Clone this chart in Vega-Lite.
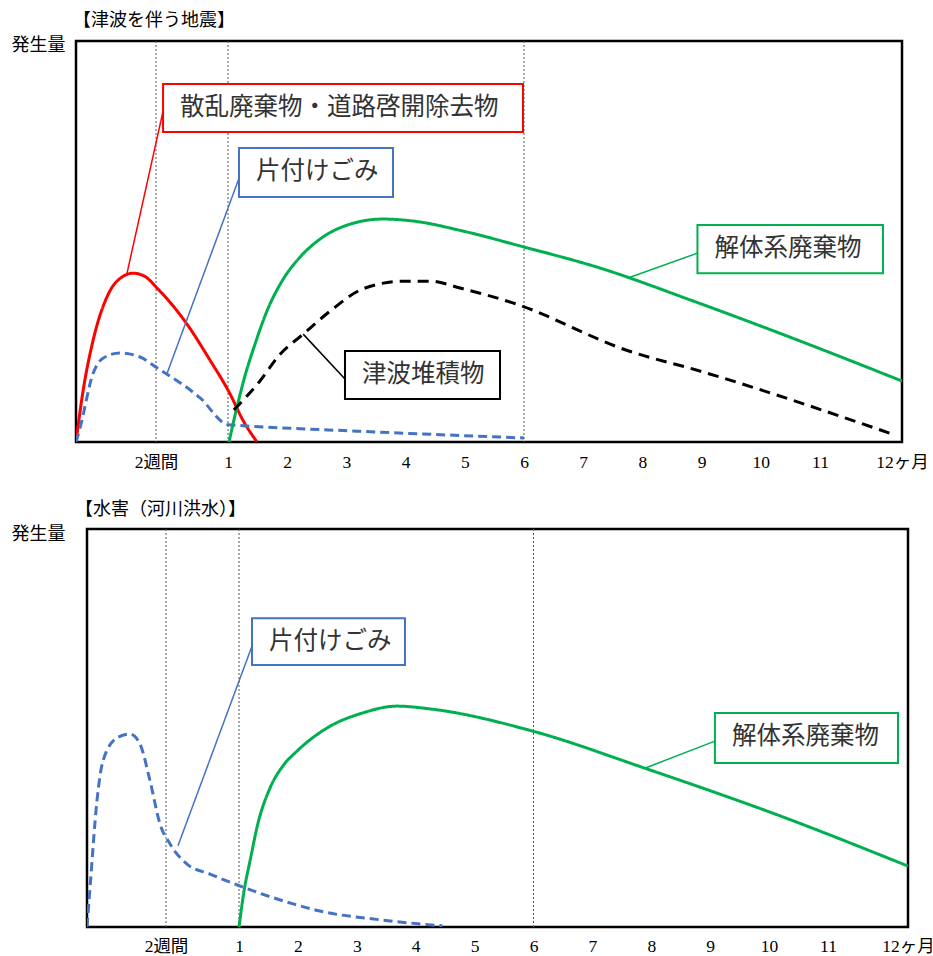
{
  "$schema": "https://vega.github.io/schema/vega-lite/v6.json",
  "padding": {"left": 8, "top": 10, "right": 0, "bottom": 0},
  "background": "white",
  "spacing": 27,
  "config": {
    "view": {"stroke": "#000000", "strokeWidth": 2.5},
    "title": {"anchor": "start", "frame": "group", "fontSize": 18, "fontWeight": "normal", "font": "Noto Sans CJK JP", "color": "#000000", "offset": 6}
  },
  "datasets": {
    "empty": [],
    "guides": [{"m": 0.5}, {"m": 1}, {"m": 6}],
    "curves_top": [
      {"series": "散乱廃棄物・道路啓開除去物", "m": 0, "v": 0},
      {"series": "散乱廃棄物・道路啓開除去物", "m": 0.044, "v": 12.7},
      {"series": "散乱廃棄物・道路啓開除去物", "m": 0.106, "v": 25.2},
      {"series": "散乱廃棄物・道路啓開除去物", "m": 0.2125, "v": 37.7},
      {"series": "散乱廃棄物・道路啓開除去物", "m": 0.29, "v": 41.2},
      {"series": "散乱廃棄物・道路啓開除去物", "m": 0.356, "v": 42.1},
      {"series": "散乱廃棄物・道路啓開除去物", "m": 0.43, "v": 41.3},
      {"series": "散乱廃棄物・道路啓開除去物", "m": 0.507, "v": 38.4},
      {"series": "散乱廃棄物・道路啓開除去物", "m": 0.715, "v": 29.4},
      {"series": "散乱廃棄物・道路啓開除去物", "m": 0.87, "v": 20.7},
      {"series": "散乱廃棄物・道路啓開除去物", "m": 1.034, "v": 12.0},
      {"series": "散乱廃棄物・道路啓開除去物", "m": 1.25, "v": 5.5},
      {"series": "散乱廃棄物・道路啓開除去物", "m": 1.49, "v": 0},
      {"series": "片付けごみ", "m": 0, "v": 0},
      {"series": "片付けごみ", "m": 0.025, "v": 3.5},
      {"series": "片付けごみ", "m": 0.106, "v": 17.0},
      {"series": "片付けごみ", "m": 0.169, "v": 20.9},
      {"series": "片付けごみ", "m": 0.275, "v": 22.2},
      {"series": "片付けごみ", "m": 0.4, "v": 21.2},
      {"series": "片付けごみ", "m": 0.507, "v": 18.5},
      {"series": "片付けごみ", "m": 0.806, "v": 11.0},
      {"series": "片付けごみ", "m": 1.0, "v": 4.3},
      {"series": "片付けごみ", "m": 1.2, "v": 4.1},
      {"series": "片付けごみ", "m": 3.18, "v": 2.7},
      {"series": "片付けごみ", "m": 6.0, "v": 1.0},
      {"series": "解体系廃棄物", "m": 1.017, "v": 0},
      {"series": "解体系廃棄物", "m": 1.135, "v": 7.7},
      {"series": "解体系廃棄物", "m": 1.287, "v": 16.5},
      {"series": "解体系廃棄物", "m": 1.456, "v": 24.4},
      {"series": "解体系廃棄物", "m": 1.659, "v": 32.7},
      {"series": "解体系廃棄物", "m": 1.912, "v": 40.1},
      {"series": "解体系廃棄物", "m": 2.216, "v": 46.1},
      {"series": "解体系廃棄物", "m": 2.554, "v": 50.6},
      {"series": "解体系廃棄物", "m": 2.976, "v": 53.9},
      {"series": "解体系廃棄物", "m": 3.618, "v": 55.6},
      {"series": "解体系廃棄物", "m": 4.13, "v": 55.1},
      {"series": "解体系廃棄物", "m": 4.97, "v": 52.6},
      {"series": "解体系廃棄物", "m": 5.93, "v": 48.9},
      {"series": "解体系廃棄物", "m": 7.28, "v": 43.4},
      {"series": "解体系廃棄物", "m": 8.85, "v": 35.2},
      {"series": "解体系廃棄物", "m": 10.66, "v": 25.2},
      {"series": "解体系廃棄物", "m": 12.0, "v": 15.2},
      {"series": "津波堆積物", "m": 1.1, "v": 8.0},
      {"series": "津波堆積物", "m": 1.54, "v": 15.2},
      {"series": "津波堆積物", "m": 1.88, "v": 21.9},
      {"series": "津波堆積物", "m": 2.27, "v": 26.9},
      {"series": "津波堆積物", "m": 2.73, "v": 32.7},
      {"series": "津波堆積物", "m": 3.28, "v": 38.2},
      {"series": "津波堆積物", "m": 3.96, "v": 40.1},
      {"series": "津波堆積物", "m": 4.41, "v": 40.1},
      {"series": "津波堆積物", "m": 4.97, "v": 38.2},
      {"series": "津波堆積物", "m": 5.81, "v": 34.7},
      {"series": "津波堆積物", "m": 7.77, "v": 22.7},
      {"series": "津波堆積物", "m": 8.97, "v": 17.7},
      {"series": "津波堆積物", "m": 11.85, "v": 2.2}
    ],
    "links_top": [
      {"series": "散乱廃棄物・道路啓開除去物", "x1": 0.319, "y1": 42.1, "x2": 0.549, "y2": 82.5},
      {"series": "片付けごみ", "x1": 0.576, "y1": 17.0, "x2": 1.186, "y2": 65.8},
      {"series": "津波堆積物", "x1": 2.27, "y1": 26.9, "x2": 2.976, "y2": 15.7},
      {"series": "解体系廃棄物", "x1": 7.757, "y1": 40.9, "x2": 8.93, "y2": 47.1}
    ],
    "boxes_top": [
      {"series": "散乱廃棄物・道路啓開除去物", "x1": 0.549, "x2": 5.983, "y1": 89.3, "y2": 77.3},
      {"series": "片付けごみ", "x1": 1.186, "x2": 3.787, "y1": 73.3, "y2": 61.1},
      {"series": "津波堆積物", "x1": 2.976, "x2": 5.595, "y1": 22.7, "y2": 10.7},
      {"series": "解体系廃棄物", "x1": 8.93, "x2": 11.768, "y1": 54.1, "y2": 42.1}
    ],
    "curves_bottom": [
      {"series": "片付けごみ", "m": 0, "v": 0},
      {"series": "片付けごみ", "m": 0.019, "v": 9.8},
      {"series": "片付けごみ", "m": 0.063, "v": 31.7},
      {"series": "片付けごみ", "m": 0.101, "v": 41.7},
      {"series": "片付けごみ", "m": 0.19, "v": 47.5},
      {"series": "片付けごみ", "m": 0.272, "v": 48.5},
      {"series": "片付けごみ", "m": 0.335, "v": 46.0},
      {"series": "片付けごみ", "m": 0.399, "v": 36.7},
      {"series": "片付けごみ", "m": 0.462, "v": 25.9},
      {"series": "片付けごみ", "m": 0.527, "v": 20.9},
      {"series": "片付けごみ", "m": 0.644, "v": 15.8},
      {"series": "片付けごみ", "m": 0.801, "v": 13.3},
      {"series": "片付けごみ", "m": 1.017, "v": 10.3},
      {"series": "片付けごみ", "m": 1.92, "v": 5.8},
      {"series": "片付けごみ", "m": 2.375, "v": 4.0},
      {"series": "片付けごみ", "m": 3.4, "v": 1.8},
      {"series": "片付けごみ", "m": 4.45, "v": 0.3},
      {"series": "解体系廃棄物", "m": 1.0, "v": 0},
      {"series": "解体系廃棄物", "m": 1.085, "v": 9.0},
      {"series": "解体系廃棄物", "m": 1.187, "v": 16.6},
      {"series": "解体系廃棄物", "m": 1.323, "v": 26.1},
      {"series": "解体系廃棄物", "m": 1.526, "v": 34.9},
      {"series": "解体系廃棄物", "m": 1.747, "v": 40.5},
      {"series": "解体系廃棄物", "m": 1.985, "v": 44.2},
      {"series": "解体系廃棄物", "m": 2.494, "v": 50.0},
      {"series": "解体系廃棄物", "m": 3.105, "v": 53.8},
      {"series": "解体系廃棄物", "m": 3.683, "v": 55.5},
      {"series": "解体系廃棄物", "m": 4.243, "v": 54.8},
      {"series": "解体系廃棄物", "m": 5.99, "v": 49.2},
      {"series": "解体系廃棄物", "m": 7.89, "v": 39.9},
      {"series": "解体系廃棄物", "m": 10.19, "v": 27.9},
      {"series": "解体系廃棄物", "m": 12.0, "v": 15.3}
    ],
    "links_bottom": [
      {"series": "片付けごみ", "x1": 0.582, "y1": 20.4, "x2": 1.221, "y2": 70.6},
      {"series": "解体系廃棄物", "x1": 7.89, "y1": 39.9, "x2": 9.08, "y2": 46.7}
    ],
    "boxes_bottom": [
      {"series": "片付けごみ", "x1": 1.221, "x2": 3.818, "y1": 77.6, "y2": 65.8},
      {"series": "解体系廃棄物", "x1": 9.08, "x2": 11.875, "y1": 53.8, "y2": 41.2}
    ]
  },
  "vconcat": [
    {
      "spacing": 0,
      "hconcat": [
        {"width": 1, "height": 1, "data": {"name": "empty"}, "mark": "point", "view": {"stroke": null}},
        {
          "width": 826,
          "height": 401,
          "title": {"text": "【津波を伴う地震】", "dx": -3},
          "layer": [
            {
              "data": {"name": "guides"},
              "mark": {"type": "rule", "strokeDash": [2, 2], "color": "#555555", "strokeWidth": 1},
              "encoding": {
                "x": {"field": "m", "type": "quantitative",
                  "scale": {"type": "linear", "domain": [0, 0.5, 1, 11, 12], "range": [0, 80, 152, 744, 826], "nice": false, "zero": false},
                  "axis": {"title": null, "values": [0.5, 1, 2, 3, 4, 5, 6, 7, 8, 9, 10, 11, 12],
                    "labelExpr": "datum.value == 0.5 ? '2週間' : datum.value == 12 ? '12ヶ月' : format(datum.value, 'd')",
                    "ticks": false, "grid": false, "domain": false, "labelFontSize": 17.5,
                    "labelFont": "Liberation Serif, Noto Sans CJK JP", "labelColor": "#000000",
                    "labelPadding": 11, "labelOverlap": false, "labelFlush": false, "labelBound": false}}
              }
            },
            {
              "data": {"name": "curves_top"},
              "mark": {"type": "line", "interpolate": "monotone", "strokeWidth": 3, "clip": true},
              "encoding": {
                "x": {"field": "m", "type": "quantitative", "scale": {"type": "linear", "domain": [0, 0.5, 1, 11, 12], "range": [0, 80, 152, 744, 826], "nice": false, "zero": false}},
                "y": {"field": "v", "type": "quantitative", "scale": {"domain": [0, 100], "nice": false},
                  "axis": {"title": "発生量", "labels": false, "ticks": false, "domain": false, "grid": false,
                    "titleAngle": 0, "titleAlign": "right", "titleBaseline": "middle", "titleX": -11, "titleY": 4,
                    "titleFontSize": 18, "titleFontWeight": "normal", "titleFont": "Noto Sans CJK JP", "titleColor": "#000000"}},
                "color": {"field": "series", "type": "nominal", "legend": null,
                  "scale": {"domain": ["散乱廃棄物・道路啓開除去物", "片付けごみ", "解体系廃棄物", "津波堆積物"], "range": ["#FF0000", "#4472C4", "#00B050", "#000000"]}},
                "strokeDash": {"field": "series", "type": "nominal", "legend": null,
                  "scale": {"domain": ["散乱廃棄物・道路啓開除去物", "片付けごみ", "解体系廃棄物", "津波堆積物"], "range": [[1, 0], [9, 5], [1, 0], [11, 7]]}}
              }
            },
            {
              "data": {"name": "links_top"},
              "mark": {"type": "rule", "strokeWidth": 1.5},
              "encoding": {
                "x": {"field": "x1", "type": "quantitative", "scale": {"type": "linear", "domain": [0, 0.5, 1, 11, 12], "range": [0, 80, 152, 744, 826], "nice": false, "zero": false}},
                "x2": {"field": "x2"},
                "y": {"field": "y1", "type": "quantitative", "scale": {"domain": [0, 100], "nice": false}},
                "y2": {"field": "y2"},
                "color": {"field": "series", "type": "nominal", "legend": null,
                  "scale": {"domain": ["散乱廃棄物・道路啓開除去物", "片付けごみ", "解体系廃棄物", "津波堆積物"], "range": ["#FF0000", "#4472C4", "#00B050", "#000000"]}}
              }
            },
            {
              "data": {"name": "boxes_top"},
              "mark": {"type": "rect", "fill": "#FFFFFF", "strokeWidth": 2},
              "encoding": {
                "x": {"field": "x1", "type": "quantitative", "scale": {"type": "linear", "domain": [0, 0.5, 1, 11, 12], "range": [0, 80, 152, 744, 826], "nice": false, "zero": false}},
                "x2": {"field": "x2"},
                "y": {"field": "y1", "type": "quantitative", "scale": {"domain": [0, 100], "nice": false}},
                "y2": {"field": "y2"},
                "stroke": {"field": "series", "type": "nominal", "legend": null,
                  "scale": {"domain": ["散乱廃棄物・道路啓開除去物", "片付けごみ", "解体系廃棄物", "津波堆積物"], "range": ["#FF0000", "#4472C4", "#00B050", "#000000"]}}
              }
            },
            {
              "data": {"name": "boxes_top"},
              "mark": {"type": "text", "align": "left", "baseline": "middle", "dx": 17, "dy": 24, "fontSize": 24.5, "font": "Noto Sans CJK JP", "color": "#333333"},
              "encoding": {
                "x": {"field": "x1", "type": "quantitative", "scale": {"type": "linear", "domain": [0, 0.5, 1, 11, 12], "range": [0, 80, 152, 744, 826], "nice": false, "zero": false}},
                "y": {"field": "y1", "type": "quantitative", "scale": {"domain": [0, 100], "nice": false}},
                "text": {"field": "series"}
              }
            }
          ]
        }
      ]
    },
    {
      "spacing": 0,
      "hconcat": [
        {"width": 1, "height": 1, "data": {"name": "empty"}, "mark": "point", "view": {"stroke": null}},
        {
          "width": 821,
          "height": 398,
          "title": {"text": "【水害（河川洪水）】", "dx": -12},
          "layer": [
            {
              "data": {"name": "guides"},
              "mark": {"type": "rule", "strokeDash": [2, 2], "color": "#555555", "strokeWidth": 1},
              "encoding": {
                "x": {"field": "m", "type": "quantitative",
                  "scale": {"type": "linear", "domain": [0, 0.5, 1, 11, 12], "range": [0, 79, 152, 741, 821], "nice": false, "zero": false},
                  "axis": {"title": null, "values": [0.5, 1, 2, 3, 4, 5, 6, 7, 8, 9, 10, 11, 12],
                    "labelExpr": "datum.value == 0.5 ? '2週間' : datum.value == 12 ? '12ヶ月' : format(datum.value, 'd')",
                    "ticks": false, "grid": false, "domain": false, "labelFontSize": 17.5,
                    "labelFont": "Liberation Serif, Noto Sans CJK JP", "labelColor": "#000000",
                    "labelPadding": 10, "labelOverlap": false, "labelFlush": false, "labelBound": false}}
              }
            },
            {
              "data": {"name": "curves_bottom"},
              "mark": {"type": "line", "interpolate": "monotone", "strokeWidth": 3, "clip": true},
              "encoding": {
                "x": {"field": "m", "type": "quantitative", "scale": {"type": "linear", "domain": [0, 0.5, 1, 11, 12], "range": [0, 79, 152, 741, 821], "nice": false, "zero": false}},
                "y": {"field": "v", "type": "quantitative", "scale": {"domain": [0, 100], "nice": false},
                  "axis": {"title": "発生量", "labels": false, "ticks": false, "domain": false, "grid": false,
                    "titleAngle": 0, "titleAlign": "right", "titleBaseline": "middle", "titleX": -22, "titleY": 5,
                    "titleFontSize": 18, "titleFontWeight": "normal", "titleFont": "Noto Sans CJK JP", "titleColor": "#000000"}},
                "color": {"field": "series", "type": "nominal", "legend": null,
                  "scale": {"domain": ["片付けごみ", "解体系廃棄物"], "range": ["#4472C4", "#00B050"]}},
                "strokeDash": {"field": "series", "type": "nominal", "legend": null,
                  "scale": {"domain": ["片付けごみ", "解体系廃棄物"], "range": [[9, 5], [1, 0]]}}
              }
            },
            {
              "data": {"name": "links_bottom"},
              "mark": {"type": "rule", "strokeWidth": 1.5},
              "encoding": {
                "x": {"field": "x1", "type": "quantitative", "scale": {"type": "linear", "domain": [0, 0.5, 1, 11, 12], "range": [0, 79, 152, 741, 821], "nice": false, "zero": false}},
                "x2": {"field": "x2"},
                "y": {"field": "y1", "type": "quantitative", "scale": {"domain": [0, 100], "nice": false}},
                "y2": {"field": "y2"},
                "color": {"field": "series", "type": "nominal", "legend": null,
                  "scale": {"domain": ["片付けごみ", "解体系廃棄物"], "range": ["#4472C4", "#00B050"]}}
              }
            },
            {
              "data": {"name": "boxes_bottom"},
              "mark": {"type": "rect", "fill": "#FFFFFF", "strokeWidth": 2},
              "encoding": {
                "x": {"field": "x1", "type": "quantitative", "scale": {"type": "linear", "domain": [0, 0.5, 1, 11, 12], "range": [0, 79, 152, 741, 821], "nice": false, "zero": false}},
                "x2": {"field": "x2"},
                "y": {"field": "y1", "type": "quantitative", "scale": {"domain": [0, 100], "nice": false}},
                "y2": {"field": "y2"},
                "stroke": {"field": "series", "type": "nominal", "legend": null,
                  "scale": {"domain": ["片付けごみ", "解体系廃棄物"], "range": ["#4472C4", "#00B050"]}}
              }
            },
            {
              "data": {"name": "boxes_bottom"},
              "mark": {"type": "text", "align": "left", "baseline": "middle", "dx": 17, "dy": 24, "fontSize": 24.5, "font": "Noto Sans CJK JP", "color": "#333333"},
              "encoding": {
                "x": {"field": "x1", "type": "quantitative", "scale": {"type": "linear", "domain": [0, 0.5, 1, 11, 12], "range": [0, 79, 152, 741, 821], "nice": false, "zero": false}},
                "y": {"field": "y1", "type": "quantitative", "scale": {"domain": [0, 100], "nice": false}},
                "text": {"field": "series"}
              }
            }
          ]
        }
      ]
    }
  ]
}
